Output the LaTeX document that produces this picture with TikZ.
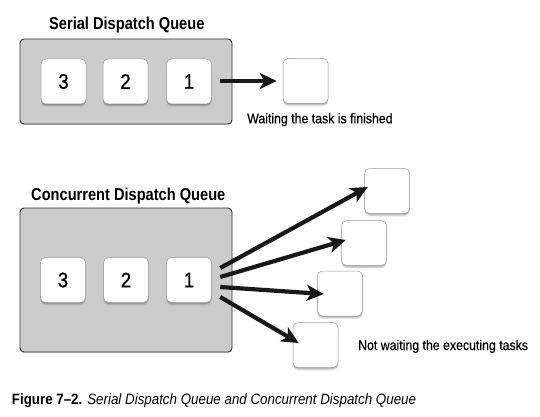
\documentclass[tikz,border=0pt]{standalone}
\usepackage{fontspec}
\setmainfont{Liberation Sans}
\newfontfamily\nrw[FakeStretch=0.88,FakeBold=0.4]{Liberation Sans}
\newfontfamily\nrwd[FakeStretch=0.88,FakeBold=0.8]{Liberation Sans}
\newfontfamily\nrwb[FakeStretch=0.85]{Liberation Sans}
\newfontfamily\capf[FakeStretch=0.89]{Liberation Sans}
\usetikzlibrary{shadows,arrows.meta,calc}
\tikzset{
  softshadow/.style={
    general shadow={fill=black, opacity=0.14, shadow yshift=-1pt},
    general shadow={fill=black, opacity=0.12, shadow yshift=-2pt},
    general shadow={fill=black, opacity=0.08, shadow yshift=-3pt}},
  queue/.style={draw=black!80, line width=0.9pt, fill=black!20, rounded corners=4pt,
    inner sep=0pt, general shadow={fill=black, opacity=0.15, shadow yshift=-1.2pt}},
  task/.style={draw=black!40, line width=0.5pt, fill=white, rounded corners=5pt,
    minimum width=45pt, minimum height=45pt, inner sep=0pt, softshadow,
    font=\nrwd\fontsize{21}{21}\selectfont},
  title/.style={anchor=base west, inner sep=0pt, font=\nrwb\bfseries\fontsize{17.2}{20}\selectfont},
  lbl/.style={anchor=base west, inner sep=0pt, font=\nrw\fontsize{14}{16}\selectfont},
  arr/.style={line width=4.2pt, black!90, -{Stealth[length=17pt,width=16pt,inset=4.5pt]}},
}
\begin{document}
\begin{tikzpicture}[x=1pt,y=-1pt]
\fill[white] (0,0) rectangle (540,417);
\useasboundingbox (0,0) rectangle (540,417);

% ---------- Serial ----------
\node[title] (st) at (49,29.3) {Serial Dispatch Queue};
\node[queue, minimum width=212pt, minimum height=85pt] (sq) at (126,81.5) {};
\node[task] (s3) at (63.5,81.5) {3};
\node[task] (s2) at (125.5,81.5) {2};
\node[task] (s1) at (189,81.5) {1};
\node[task] (sw) at (305.5,81) {};
\node[lbl] (swl) at (247,123.3) {Waiting the task is finished};
\coordinate (so) at ($(s1.east)+(8.5,-0.5)$);
\coordinate (se) at ($(sw.west)+(-6,0)$);
\draw[arr] (so) -- (se);

% ---------- Concurrent ----------
\node[title] (ct) at (31,200.7) {Concurrent Dispatch Queue};
\node[queue, minimum width=212pt, minimum height=144pt] (cq) at (126,280) {};
\node[task] (c3) at (63,280) {3};
\node[task] (c2) at (126,280) {2};
\node[task] (c1) at (189,280) {1};
\node[task] (ca) at (387,191) {};
\node[task] (cb) at (364,243) {};
\node[task] (cc) at (340,293.5) {};
\node[task] (cd) at (315.5,345) {};
\node[lbl] (cdl) at (358,350) {Not waiting the executing tasks};

\coordinate (o1) at ($(c1.east)+(8.5,-12)$);
\coordinate (o2) at ($(c1.east)+(8.5,-3)$);
\coordinate (o3) at ($(c1.east)+(8.5,7)$);
\coordinate (o4) at ($(c1.east)+(8.5,17)$);
\coordinate (e1) at ($(ca.west)+(3.5,-4)$);
\coordinate (e2) at ($(cb.west)+(4.5,-3)$);
\coordinate (e3) at ($(cc.west)+(6.5,0.5)$);
\coordinate (e4) at ($(cd.west)+(6,-2)$);
\draw[arr] (o1) -- (e1);
\draw[arr] (o2) -- (e2);
\draw[arr] (o3) -- (e3);
\draw[arr] (o4) -- (e4);

% ---------- Caption ----------
\node[anchor=base west, inner sep=0pt, font=\capf\fontsize{15}{17}\selectfont] (cap) at (11.7,404)
  {{\bfseries Figure 7–2.} \itshape Serial Dispatch Queue and Concurrent Dispatch Queue};
\end{tikzpicture}
\end{document}
